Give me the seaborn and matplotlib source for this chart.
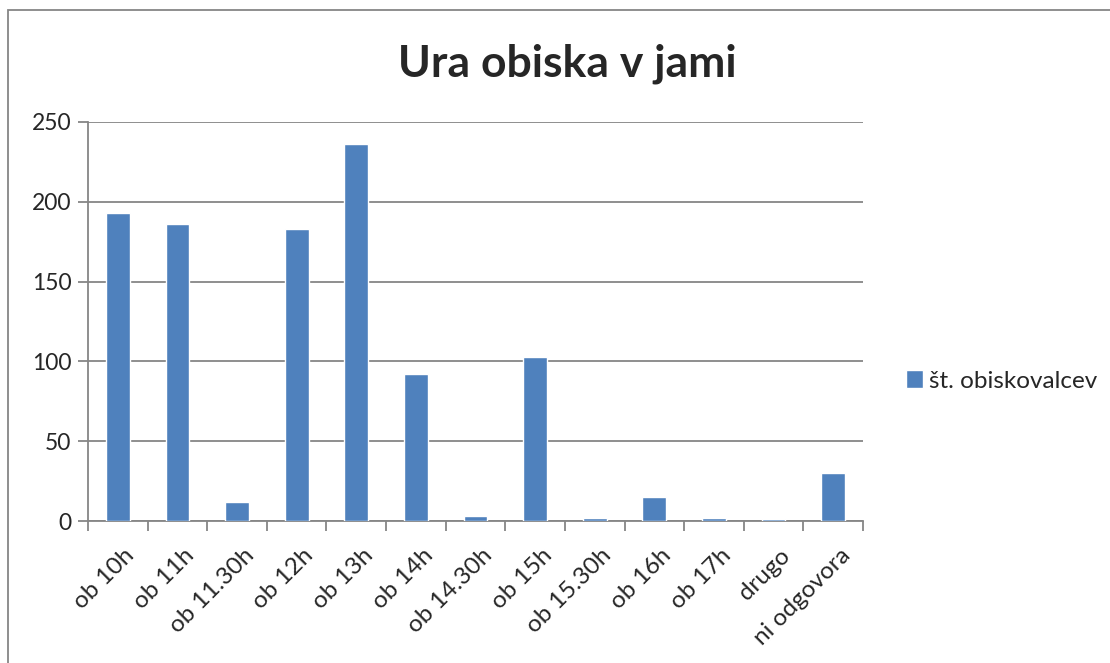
import numpy as np
import pandas as pd
import matplotlib.pyplot as plt
import matplotlib.transforms as mtransforms
from matplotlib.patches import Rectangle
import seaborn as sns

# Data
categories = ["ob 10h", "ob 11h", "ob 11.30h", "ob 12h", "ob 13h", "ob 14h", "ob 14.30h",
              "ob 15h", "ob 15.30h", "ob 16h", "ob 17h", "drugo", "ni odgovora"]
visitors = [193, 186, 12, 183, 236, 92, 3, 103, 2, 15, 2, 1, 30]
series_name = "št. obiskovalcev"
title = "Ura obiska v jami"

sns.set_style("white")
plt.rcParams["font.family"] = ["Lato", "DejaVu Sans"]

grey = "#868686"
bar_color = "#4F81BD"

df = pd.DataFrame({"Ura": categories, "Obiskovalci": visitors})

fig = plt.figure(figsize=(11.1, 6.63), dpi=100)
ax = fig.add_axes([88 / 1110, 1 - 521 / 663, (863 - 88) / 1110, (521 - 122) / 663])

sns.barplot(data=df, x="Ura", y="Obiskovalci", color=bar_color, width=0.4,
            saturation=1, ax=ax, label=series_name, zorder=3)

ax.set_ylim(0, 250)
ax.set_xlim(-0.5, len(categories) - 0.5)
ax.set_yticks(np.arange(0, 251, 50))
ax.yaxis.grid(True, color=grey, lw=1.3, zorder=0)
ax.set_xlabel("")
ax.set_ylabel("")

# category boundary ticks
ax.set_xticks(np.arange(-0.5, len(categories), 1), minor=True)
ax.tick_params(axis="x", which="minor", length=7, width=1.3, color=grey, direction="out", bottom=True)
ax.tick_params(axis="x", which="major", length=0, labelsize=17.5, pad=17)
ax.tick_params(axis="y", length=7, width=1.3, color=grey, direction="out", left=True,
               labelsize=16.5, pad=5)
ax.set_xticks(range(len(categories)))
ax.set_xticklabels(categories, rotation=45, ha="right", rotation_mode="anchor")
shift = mtransforms.ScaledTranslation(6 / 100, 0, fig.dpi_scale_trans)
for lbl in ax.get_xticklabels():
    lbl.set_transform(lbl.get_transform() + shift)

for side in ["top", "right"]:
    ax.spines[side].set_visible(False)
for side in ["left", "bottom"]:
    ax.spines[side].set_color(grey)
    ax.spines[side].set_linewidth(1.3)

fig.text(567 / 1110, 1 - 64 / 663, title, ha="center", va="center",
         fontsize=32, fontweight="bold")

ax.legend(loc="center left", bbox_to_anchor=(884 / 1110, 1 - 381 / 663),
          bbox_transform=fig.transFigure, frameon=False, fontsize=17.5,
          handlelength=0.7, handleheight=0.7, handletextpad=0.25)

# chart outer frame
fig.patches.append(Rectangle((8 / 1110, -0.1), 1.2, 1.1 - 10 / 663,
                             transform=fig.transFigure, fill=False,
                             edgecolor=grey, lw=1.3))

fig.savefig("out.png", dpi=100)
